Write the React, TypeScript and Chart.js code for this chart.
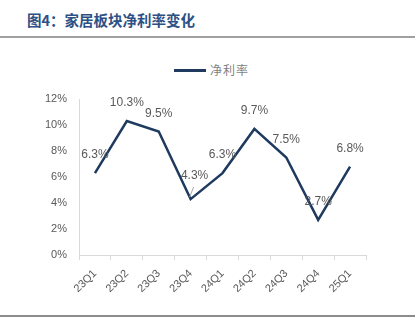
import React, { useEffect, useRef } from "react";
import { Chart, registerables } from "chart.js";

Chart.register(...registerables);

const categories = ["23Q1", "23Q2", "23Q3", "23Q4", "24Q1", "24Q2", "24Q3", "24Q4", "25Q1"];
const netMargin = [6.3, 10.3, 9.5, 4.3, 6.3, 9.7, 7.5, 2.7, 6.8];
const seriesName = "净利率";
const yTicks = [0, 2, 4, 6, 8, 10, 12];
const title = "图4：家居板块净利率变化";

const LINE_COLOR = "#1F3A5F";

const labelPlugin = {
  id: "pointLabels",
  afterDatasetsDraw(chart: any) {
    const ctx = chart.ctx;
    const meta = chart.getDatasetMeta(0);
    ctx.save();
    ctx.font = "12px 'Liberation Sans', Arial, sans-serif";
    ctx.fillStyle = "#595959";
    ctx.textAlign = "center";
    ctx.textBaseline = "middle";
    meta.data.forEach((pt: any, i: number) => {
      const v = netMargin[i];
      const text = v.toFixed(1) + "%";
      if (i === 3) {
        ctx.fillText(text, pt.x + 4, pt.y - 23);
        ctx.strokeStyle = "#A6A6A6";
        ctx.lineWidth = 1;
        ctx.beginPath();
        ctx.moveTo(pt.x + 3, pt.y - 12);
        ctx.lineTo(pt.x - 1, pt.y - 2);
        ctx.stroke();
      } else {
        ctx.fillText(text, pt.x, pt.y - 18);
      }
    });
    ctx.restore();
  },
};

export default function App() {
  const ref = useRef<HTMLCanvasElement>(null);
  useEffect(() => {
    if (!ref.current) return;
    const chart = new Chart(ref.current, {
      type: "line",
      data: {
        labels: categories,
        datasets: [
          {
            label: seriesName,
            data: netMargin,
            borderColor: LINE_COLOR,
            backgroundColor: LINE_COLOR,
            borderWidth: 2.5,
            pointRadius: 0,
            tension: 0,
          },
        ],
      },
      options: {
        animation: false,
        responsive: false,
        layout: { padding: { left: 0, right: 54, top: 99, bottom: 0 } },
        plugins: {
          legend: { display: false },
          tooltip: { enabled: false },
        },
        scales: {
          x: {
            offset: true,
            grid: {
              offset: true,
              drawOnChartArea: false,
              drawTicks: true,
              tickLength: 5,
              color: "#D9D9D9",
            },
            border: { color: "#D9D9D9" },
            ticks: {
              color: "#595959",
              font: { size: 11, family: "'Liberation Sans', Arial, sans-serif" },
              maxRotation: 45,
              minRotation: 45,
              padding: 7,
            },
            afterFit(scale: any) {
              scale.height = 71;
            },
          },
          y: {
            min: 0,
            max: 12,
            afterBuildTicks(scale: any) {
              scale.ticks = yTicks.map((v) => ({ value: v }));
            },
            grid: { display: false, drawTicks: false },
            border: { display: true, color: "#D9D9D9" },
            ticks: {
              color: "#595959",
              font: { size: 11, family: "'Liberation Sans', Arial, sans-serif" },
              padding: 12,
              callback: (v: any) => v + "%",
            },
            afterFit(scale: any) {
              scale.width = 79;
            },
          },
        },
      },
      plugins: [labelPlugin],
    });
    return () => chart.destroy();
  }, []);

  return (
    <div style={{ position: "fixed", left: 0, top: 0, width: 420, height: 326, background: "#fff" }}>
      <div
        style={{
          position: "absolute",
          left: 27,
          top: 10,
          fontFamily: "'Noto Sans CJK SC', sans-serif",
          fontWeight: "bold",
          fontSize: 14.5,
          lineHeight: "20px",
          color: "#2E5185",
          whiteSpace: "nowrap",
        }}
      >
        {title}
      </div>
      <div style={{ position: "absolute", left: 0, top: 36, width: 415, height: 2, background: "#A0A0A0" }} />
      <div style={{ position: "absolute", left: 0, top: 315, width: 415, height: 2, background: "#8C8C8C" }} />
      <div style={{ position: "absolute", left: 174, top: 69, width: 32, height: 3, background: LINE_COLOR }} />
      <div
        style={{
          position: "absolute",
          left: 210,
          top: 61,
          fontFamily: "'Noto Sans CJK SC', sans-serif",
          fontSize: 12,
          lineHeight: "18px",
          color: "#7F7F7F",
          letterSpacing: 1,
          whiteSpace: "nowrap",
        }}
      >
        {seriesName}
      </div>
      <canvas ref={ref} width={420} height={326} style={{ position: "absolute", left: 0, top: 0 }} />
    </div>
  );
}
